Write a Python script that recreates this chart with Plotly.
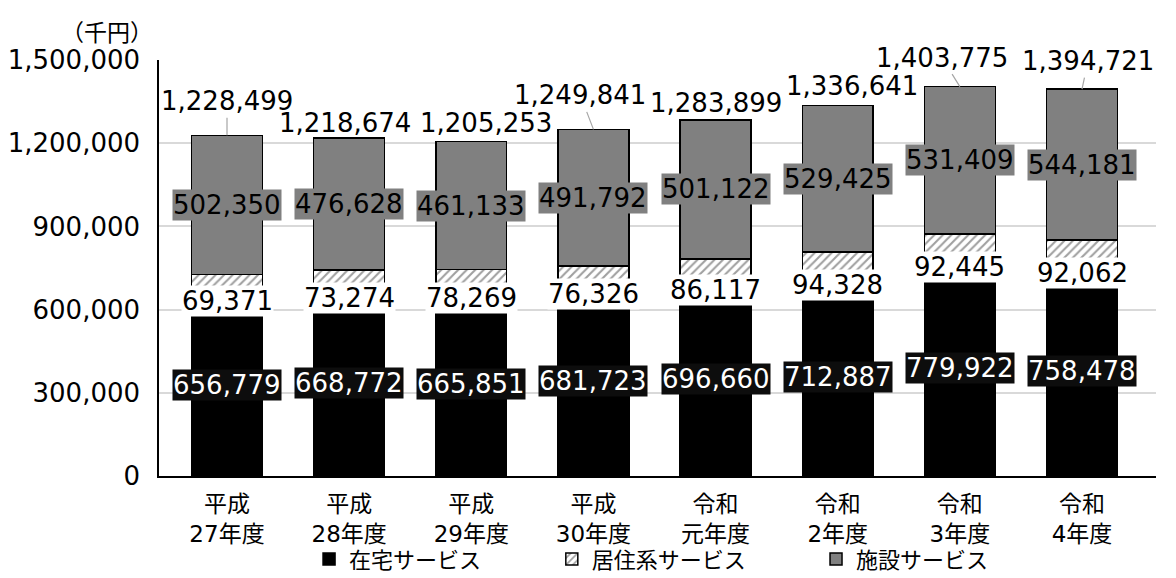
import plotly.graph_objects as go

# 介護給付費の内訳（千円）
categories = ["平成<br>27年度", "平成<br>28年度", "平成<br>29年度", "平成<br>30年度",
              "令和<br>元年度", "令和<br>2年度", "令和<br>3年度", "令和<br>4年度"]
home_care = [656779, 668772, 665851, 681723, 696660, 712887, 779922, 758478]      # 在宅サービス
residential = [69371, 73274, 78269, 76326, 86117, 94328, 92445, 92062]            # 居住系サービス
facility = [502350, 476628, 461133, 491792, 501122, 529425, 531409, 544181]       # 施設サービス
totals = [1228499, 1218674, 1205253, 1249841, 1283899, 1336641, 1403775, 1394721]
y_ticks = [0, 300000, 600000, 900000, 1200000, 1500000]
series_names = ["在宅サービス", "居住系サービス", "施設サービス"]

FONT = "DejaVu Sans, Noto Sans CJK JP"
NUM_SIZE = 26


def fmt(v):
    return f"{v:,}"


fig = go.Figure()
fig.add_bar(x=categories, y=home_care, name=series_names[0], legend="legend",
            marker=dict(color="#000000", line=dict(color="#000000", width=1.5)))
fig.add_bar(x=categories, y=residential, name=series_names[1], legend="legend2",
            marker=dict(color="#ffffff", line=dict(color="#000000", width=1.5),
                        pattern=dict(shape="/", fgcolor="#404040", bgcolor="#ffffff",
                                     size=6, solidity=0.35)))
fig.add_bar(x=categories, y=facility, name=series_names[2], legend="legend3",
            marker=dict(color="#808080", line=dict(color="#000000", width=1.5)))

annotations = []
for i, cat in enumerate(categories):
    base_mid = home_care[i] / 2
    top_of_res = home_care[i] + residential[i]
    fac_mid = top_of_res + facility[i] / 2
    # 在宅 (white on black box)
    annotations.append(dict(x=cat, y=base_mid, text=fmt(home_care[i]), showarrow=False,
                            font=dict(family=FONT, size=NUM_SIZE, color="#ffffff"),
                            bgcolor="#0d0d0d", borderpad=0))
    # 居住系 (white box just below the hatched segment)
    annotations.append(dict(x=cat, y=home_care[i], yshift=-7, text=fmt(residential[i]),
                            showarrow=False,
                            font=dict(family=FONT, size=NUM_SIZE, color="#000000"),
                            bgcolor="#ffffff", borderpad=0))
    # 施設 (gray box)
    annotations.append(dict(x=cat, y=fac_mid, text=fmt(facility[i]), showarrow=False,
                            font=dict(family=FONT, size=NUM_SIZE, color="#000000"),
                            bgcolor="#808080", borderpad=0))

# total labels: (x offset, y offset, leader line)
total_offsets = [(0, -34, True), (-4, 15, False), (15, 19, False), (-13, -34, True),
                 (0, 17, False), (14, 19, False), (-18, -29, True), (6, -28, True)]
for i, cat in enumerate(categories):
    dx, dy, leader = total_offsets[i]
    if leader:
        annotations.append(dict(x=cat, y=totals[i], text=fmt(totals[i]), showarrow=True,
                                ax=dx, ay=dy, arrowhead=0, arrowwidth=1.2,
                                arrowcolor="#a6a6a6", standoff=0, startstandoff=0,
                                font=dict(family=FONT, size=NUM_SIZE, color="#000000")))
    else:
        annotations.append(dict(x=cat, y=totals[i], text=fmt(totals[i]), showarrow=False,
                                xshift=dx, yshift=dy, yanchor="middle",
                                font=dict(family=FONT, size=NUM_SIZE, color="#000000")))

annotations.append(dict(xref="paper", yref="paper", x=-0.052, y=1.065, text="（千円）",
                        showarrow=False, xanchor="center", yanchor="middle",
                        font=dict(family=FONT, size=23, color="#000000")))

legend_common = dict(orientation="h", yanchor="middle", xanchor="left", y=-0.2,
                     font=dict(family=FONT, size=22, color="#000000"),
                     bgcolor="rgba(0,0,0,0)")

fig.update_layout(
    barmode="stack",
    bargap=0.42,
    width=1176, height=578,
    margin=dict(l=159, r=20, t=60, b=102, autoexpand=False),
    showlegend=True,
    plot_bgcolor="#ffffff", paper_bgcolor="#ffffff",
    font=dict(family=FONT, size=24, color="#000000"),
    annotations=annotations,
    legend=dict(x=0.1505, **legend_common),
    legend2=dict(x=0.394, **legend_common),
    legend3=dict(x=0.659, **legend_common),
    xaxis=dict(showline=True, linecolor="#000000", linewidth=1.5, ticks="",
               tickfont=dict(family=FONT, size=23, color="#000000"), ticklabelstandoff=7),
    yaxis=dict(range=[0, 1500000], tickvals=y_ticks, ticktext=[fmt(v) for v in y_ticks],
               showline=True, linecolor="#000000", linewidth=1.5,
               showgrid=True, gridcolor="#d9d9d9", gridwidth=1.5, zeroline=False,
               ticks="", ticklabelstandoff=12,
               tickfont=dict(family=FONT, size=NUM_SIZE, color="#000000")),
)

fig.write_html("out.html")
